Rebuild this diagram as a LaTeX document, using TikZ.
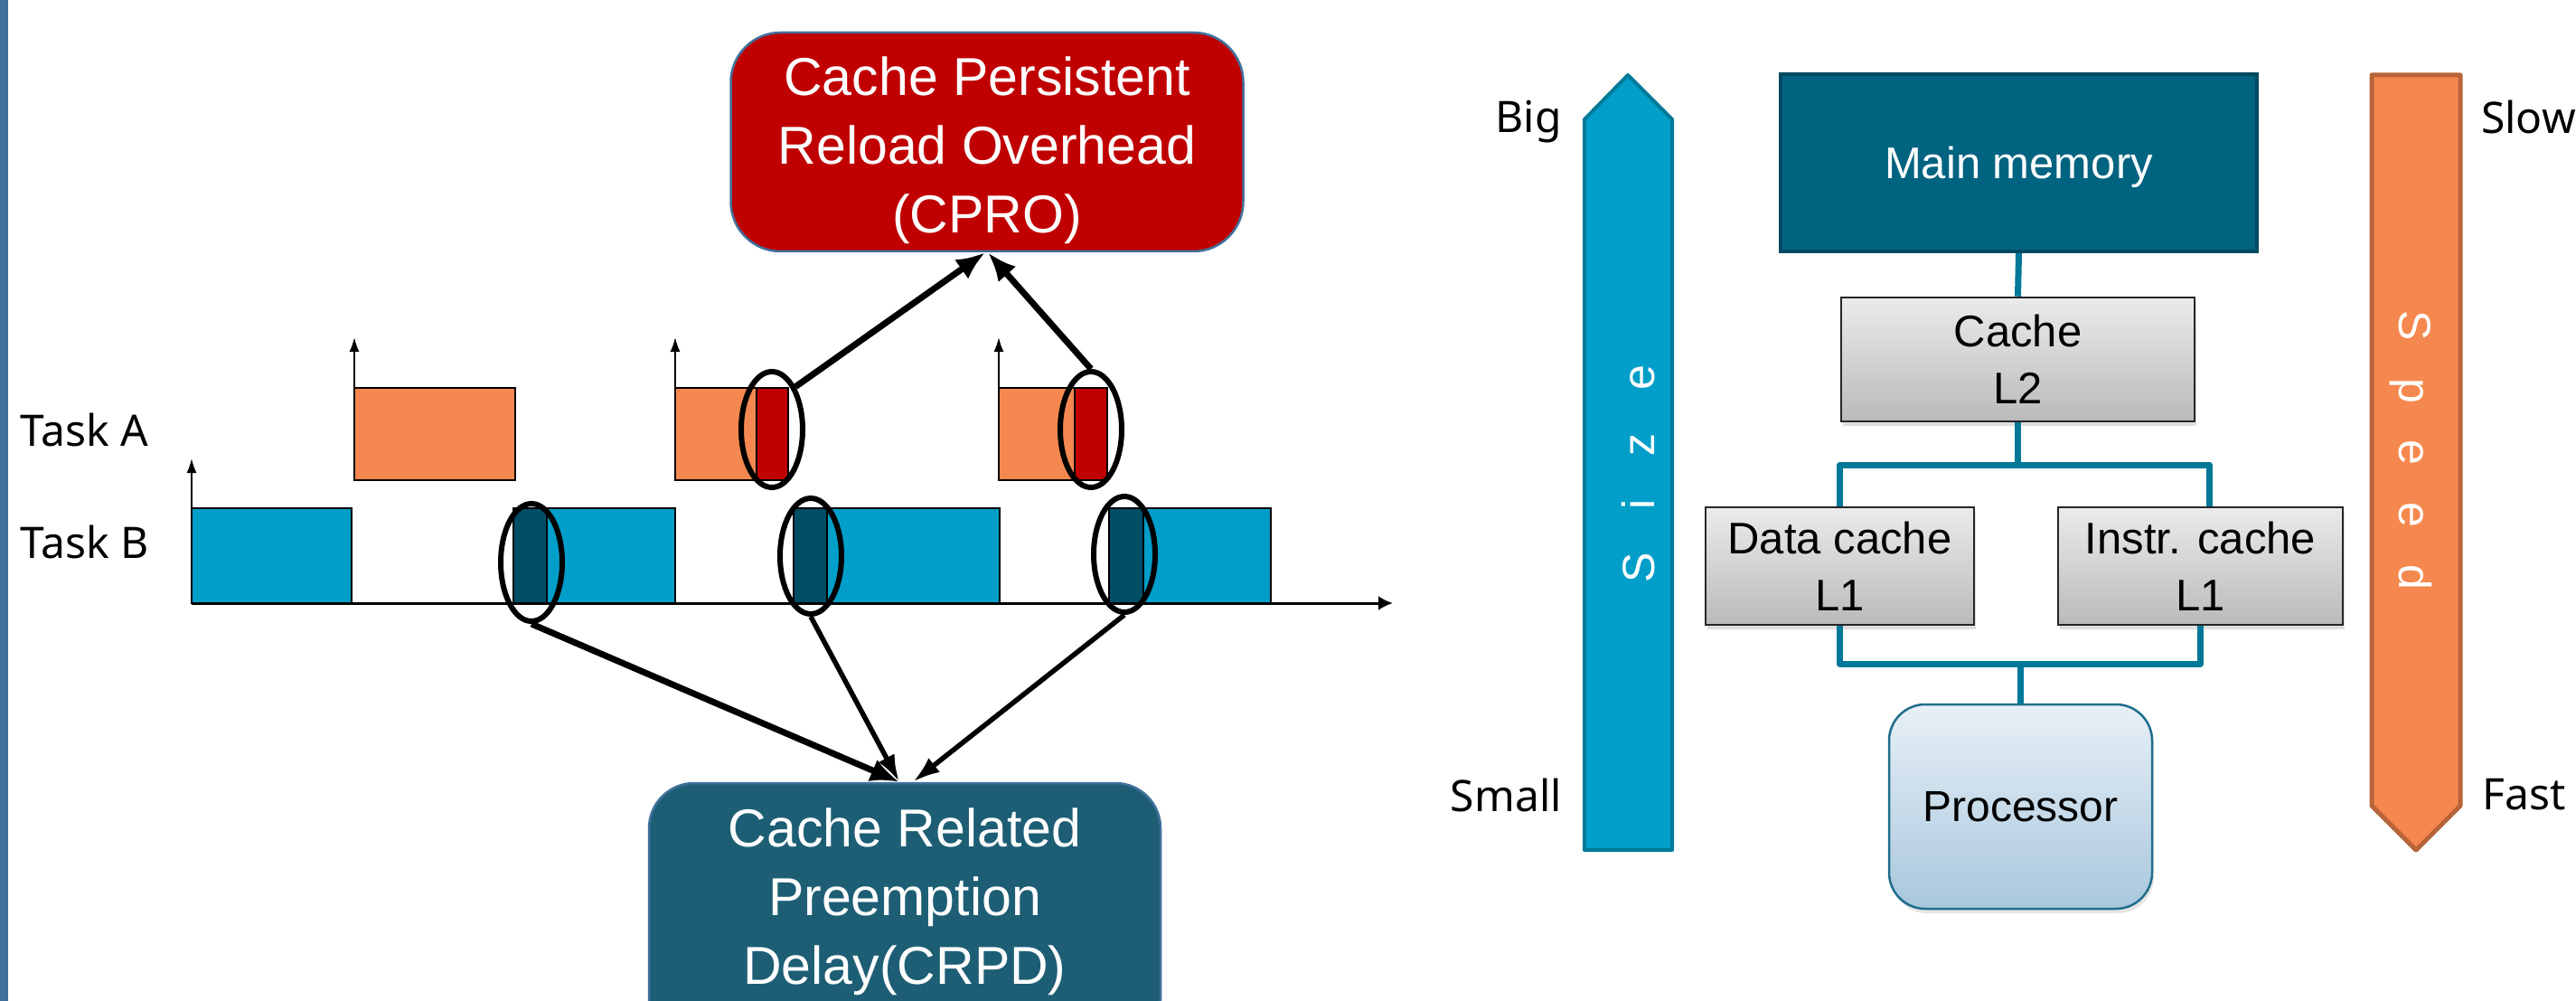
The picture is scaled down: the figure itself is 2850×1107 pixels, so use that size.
\documentclass[tikz,border=0pt]{standalone}
\usepackage{fontspec}
\setmainfont{Liberation Sans}
\newfontfamily\labelfont{Noto Sans}
\usetikzlibrary{arrows.meta,shapes.geometric,shadows}
\definecolor{stripblue}{RGB}{65,112,156}
\definecolor{cprored}{RGB}{192,0,0}
\definecolor{boxedge}{RGB}{65,113,156}
\definecolor{crpdteal}{RGB}{29,94,117}
\definecolor{taskorange}{RGB}{244,136,80}
\definecolor{taskred}{RGB}{192,0,0}
\definecolor{taskblue}{RGB}{0,158,200}
\definecolor{taskdark}{RGB}{0,77,102}
\definecolor{mmfill}{RGB}{0,99,128}
\definecolor{mmedge}{RGB}{0,74,97}
\definecolor{busteal}{RGB}{0,120,152}
\definecolor{sizeedge}{RGB}{0,122,153}
\definecolor{speedfill}{RGB}{245,136,78}
\definecolor{speededge}{RGB}{184,100,58}
\definecolor{grayTop}{RGB}{235,235,235}
\definecolor{grayBot}{RGB}{186,186,186}
\definecolor{procTop}{RGB}{232,240,247}
\definecolor{procBot}{RGB}{168,199,221}
\definecolor{procEdge}{RGB}{31,110,140}
\begin{document}
\begin{tikzpicture}[x=1pt,y=-1pt,
  lbl/.style={font=\labelfont\fontsize{48}{58}\selectfont, inner sep=0pt, text=black},
  bigtxt/.style={font=\fontsize{59}{76}\selectfont, text=white, align=center, inner sep=0pt},
  wbox/.style={rounded corners=55pt, line width=2.5pt, inner sep=0pt},
  ell/.style={ellipse, draw=black, line width=6pt, minimum width=68pt, minimum height=128pt, inner sep=0pt},
  bigarrow/.style={line width=7pt, -{Latex[length=32pt,width=26pt]}},
  midarrow/.style={line width=5.5pt, -{Latex[length=30pt,width=20pt]}},
  axis/.style={line width=2pt, -{Latex[length=16pt,width=11pt]}},
  bar/.style={draw=black, line width=2pt},
  cachebox/.style={draw=black!85, line width=2.5pt, top color=grayTop, bottom color=grayBot,
    drop shadow={shadow xshift=2pt, shadow yshift=-5pt, opacity=0.25},
    align=center, font=\fontsize{49}{63}\selectfont, inner sep=0pt},
  bus/.style={draw=busteal, line width=7pt},
  letters/.style={font=\fontsize{50}{60}\selectfont, text=white, inner sep=0pt}
]
\useasboundingbox (0,0) rectangle (2850,1107);
\clip (0,0) rectangle (2850,1107);
\fill[white] (0,0) rectangle (2850,1107);
% left strip
\fill[stripblue] (0,0) rectangle (9,1107);

% ---------- left diagram ----------
\node[lbl, anchor=base west] (taskA) at (22,493) {Task A};
\node[lbl, anchor=base west] (taskB) at (22,617) {Task B};

% Task A bars
\fill[taskorange] (392,429) rectangle (570,531);
\draw[bar] (392,429) rectangle (570,531);
\fill[taskorange] (747,429) rectangle (837,531);
\fill[taskred] (837,429) rectangle (872,531);
\draw[bar] (747,429) rectangle (837,531);
\draw[bar] (837,429) rectangle (872,531);
\fill[taskorange] (1105,429) rectangle (1189,531);
\fill[taskred] (1189,429) rectangle (1225,531);
\draw[bar] (1105,429) rectangle (1189,531);
\draw[bar] (1189,429) rectangle (1225,531);

% Task B bars
\fill[taskblue] (212,562) rectangle (389,667);
\draw[bar] (212,562) rectangle (389,667);
\fill[taskdark] (568,562) rectangle (605,667);
\fill[taskblue] (605,562) rectangle (747,667);
\draw[bar] (568,562) rectangle (605,667);
\draw[bar] (605,562) rectangle (747,667);
\fill[taskdark] (878,562) rectangle (915,667);
\fill[taskblue] (915,562) rectangle (1106,667);
\draw[bar] (878,562) rectangle (915,667);
\draw[bar] (915,562) rectangle (1106,667);
\fill[taskdark] (1227,562) rectangle (1265,667);
\fill[taskblue] (1265,562) rectangle (1406,667);
\draw[bar] (1227,562) rectangle (1265,667);
\draw[bar] (1265,562) rectangle (1406,667);

% axes
\draw[axis] (212,667) -- (212,507);
\draw[axis] (392,480) -- (392,373);
\draw[axis] (747,480) -- (747,373);
\draw[axis] (1105,480) -- (1105,373);
\draw[line width=3pt, -{Latex[length=16pt,width=16pt]}] (212,667) -- (1541,667);

% ellipses
\node[ell] (e2) at (854,475) {};
\node[ell] (e3) at (1207,475) {};
\node[ell, minimum height=130pt] (e4) at (588,622) {};
\node[ell] (e5) at (897,615) {};
\node[ell] (e6) at (1244,613) {};

% CPRO box
\node[wbox, draw=boxedge, fill=cprored, minimum width=567pt, minimum height=242pt] (cpro) at (1092,157) {};
\node[bigtxt] (cprotext) at (1092,166) {Cache Persistent\\Reload Overhead\\(CPRO)};

% CRPD box
\node[wbox, rounded corners=50pt, draw=boxedge, fill=crpdteal, minimum width=566pt, minimum height=290pt] (crpd) at (1001,1011) {};
\node[bigtxt] (crpdtext) at (1001,997) {Cache Related\\Preemption\\Delay(CRPD)};

% connectors
\draw[bigarrow] (e2.north east) -- ([xshift=-2pt]cpro.south);
\draw[bigarrow] (e3.north) -- ([xshift=1pt]cpro.south);
\draw[bigarrow] (e4.south) -- ([xshift=-6pt]crpd.north);
\draw[midarrow] (e5.south) -- ([xshift=-6pt]crpd.north);
\draw[midarrow] (e6.south) -- ([xshift=9pt]crpd.north);

% ---------- right diagram ----------
% size arrow
\draw[fill=taskblue, draw=sizeedge, line width=4pt, line join=round]
  (1753,940) -- (1753,132) -- (1801,83) -- (1850,132) -- (1850,940) -- cycle;
\node[letters, rotate=90] (sizetxt) at (1813,524) {S\hspace{48pt}i\hspace{48pt}z\hspace{48pt}e};
% speed arrow
\draw[fill=speedfill, draw=speededge, line width=5pt, line join=round]
  (2624,83) -- (2722,83) -- (2722,891) -- (2673,940) -- (2624,891) -- cycle;
\node[letters, rotate=-90] (speedtxt) at (2667,498) {S\hspace{41pt}p\hspace{41pt}e\hspace{41pt}e\hspace{41pt}d};

\node[lbl, anchor=base east] (big) at (1728,147) {Big};
\node[lbl, anchor=base east] (small) at (1728,897) {Small};
\node[lbl, anchor=base west] (slow) at (2745,148) {Slow};
\node[lbl, anchor=base west] (fast) at (2746,895) {Fast};

\coordinate (busT) at (2232.5,514);
\coordinate (busB) at (2235.5,734);

% boxes
\node[draw=mmedge, fill=mmfill, line width=4pt, minimum width=527pt, minimum height=196pt,
  inner sep=0pt, text=white, font=\fontsize{49}{60}\selectfont, text depth=0pt] (mm) at (2233.5,180) {Main memory};
\node[cachebox, minimum width=391pt, minimum height=137pt] (l2) at (2232.5,397.5) {Cache\\L2};
\node[cachebox, minimum width=297pt, minimum height=130pt] (dc) at (2035.5,626) {Data cache\\L1};
\node[cachebox, minimum width=315pt, minimum height=130pt] (ic) at (2434.5,626) {Instr. cache\\L1};
\node[draw=procEdge, line width=2.5pt, rounded corners=40pt, top color=procTop, bottom color=procBot,
  drop shadow={shadow xshift=2pt, shadow yshift=-5pt, opacity=0.2},
  minimum width=291pt, minimum height=226pt, inner sep=0pt, font=\fontsize{48}{58}\selectfont] (proc) at (2235.5,892) {Processor};

\draw[bus] (mm.south) -- (l2.north);
\draw[bus] (l2.south) -- (busT);
\draw[bus, line join=round] (dc.north) |- ([xshift=10pt]ic.north |- busT) -- ([xshift=10pt]ic.north);
\draw[bus, line join=round] (dc.south) |- (ic.south |- busB) -- (ic.south);
\draw[bus] (busB) -- (proc.north);
\end{tikzpicture}
\end{document}
